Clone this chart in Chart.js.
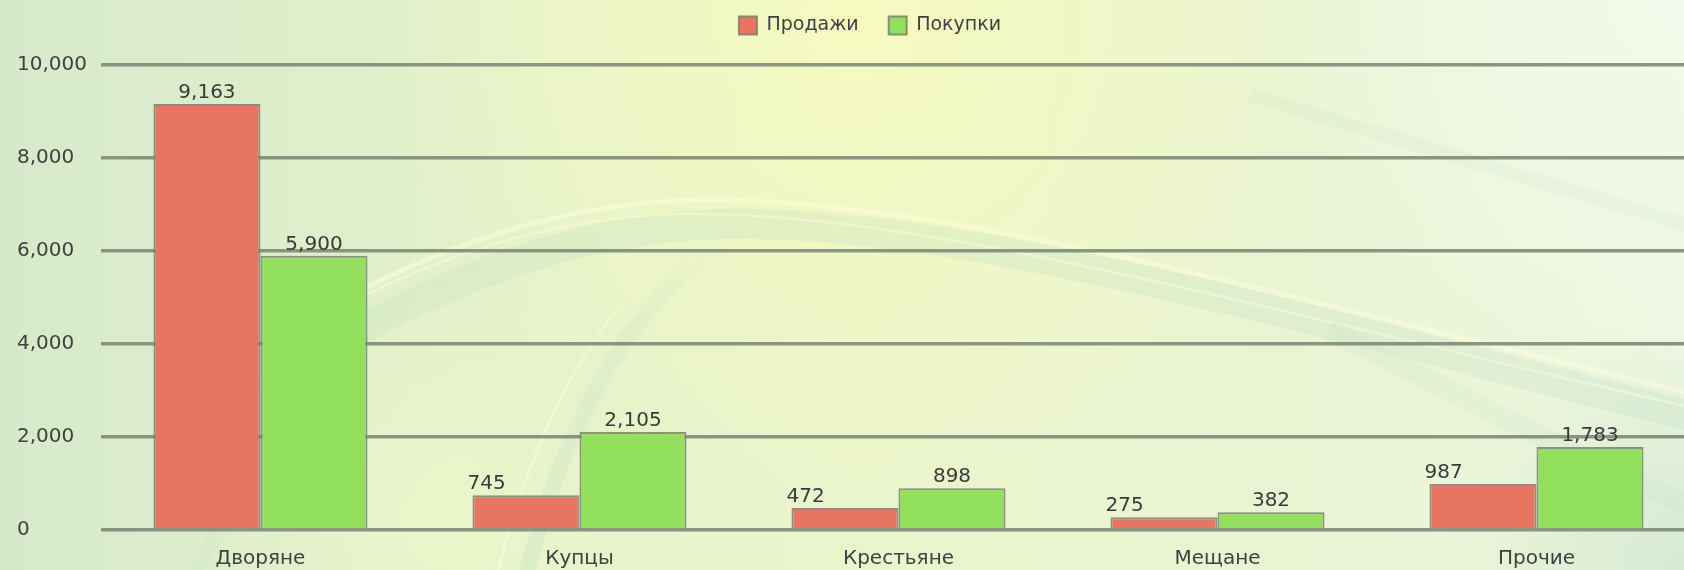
<!DOCTYPE html>
<html>
<head>
<meta charset="utf-8">
<script src="https://cdn.jsdelivr.net/npm/chart.js@4/dist/chart.umd.min.js"></script>
<style>
  html, body { margin: 0; padding: 0; overflow: hidden; width: 1684px; height: 570px; background: #e4f1cc; }
  #wrap { position: absolute; left: 0; top: 0; width: 1723px; height: 570px; }
</style>
</head>
<body>
<div id="wrap"><canvas id="c" width="1723" height="570"></canvas></div>
<script>
// Sales and purchases by social estate
const categories = ['Дворяне', 'Купцы', 'Крестьяне', 'Мещане', 'Прочие'];
const sales = [9163, 745, 472, 275, 987];
const purchases = [5900, 2105, 898, 382, 1783];
const seriesNames = ['Продажи', 'Покупки'];
const yTicks = [0, 2000, 4000, 6000, 8000, 10000];

const FONT = '"DejaVu Sans", Verdana, sans-serif';
const TEXT = '#414141';
const fmt = v => v.toLocaleString('en-US');

// Soft green/yellow backdrop with sweeping bands
const backdrop = {
  id: 'backdrop',
  beforeDraw(chart) {
    const { ctx, width, height } = chart;
    ctx.save();
    let g = ctx.createLinearGradient(0, 0, width, 0);
    g.addColorStop(0, '#d6eacb');
    g.addColorStop(0.25, '#e2f0cb');
    g.addColorStop(0.5, '#ebf5cb');
    g.addColorStop(0.75, '#eaf4d3');
    g.addColorStop(1, '#edf6e0');
    ctx.fillStyle = g;
    ctx.fillRect(0, 0, width, height);

    // warm glow near the top centre
    let r = ctx.createRadialGradient(860, 20, 10, 860, 20, 480);
    r.addColorStop(0, 'rgba(248,251,190,0.8)');
    r.addColorStop(1, 'rgba(248,251,190,0)');
    ctx.fillStyle = r;
    ctx.fillRect(0, 0, width, height);

    // pale top right
    r = ctx.createRadialGradient(1684, 0, 10, 1684, 0, 420);
    r.addColorStop(0, 'rgba(244,250,236,0.9)');
    r.addColorStop(1, 'rgba(244,250,236,0)');
    ctx.fillStyle = r;
    ctx.fillRect(0, 0, width, height);

    // light patch lower left
    r = ctx.createRadialGradient(440, 520, 10, 440, 520, 280);
    r.addColorStop(0, 'rgba(240,248,200,0.6)');
    r.addColorStop(1, 'rgba(240,248,200,0)');
    ctx.fillStyle = r;
    ctx.fillRect(0, 0, width, height);

    // greener lower right corner
    r = ctx.createRadialGradient(1684, 570, 10, 1684, 570, 240);
    r.addColorStop(0, 'rgba(205,230,205,0.7)');
    r.addColorStop(1, 'rgba(205,230,205,0)');
    ctx.fillStyle = r;
    ctx.fillRect(0, 0, width, height);

    ctx.lineCap = 'butt';
    const arch = (w, col, dx, dy) => {
      ctx.beginPath();
      ctx.moveTo(250 + dx, 360 + dy);
      ctx.bezierCurveTo(420 + dx, 250 + dy, 560 + dx, 205 + dy, 700 + dx, 200 + dy);
      ctx.bezierCurveTo(950 + dx, 195 + dy, 1300 + dx, 300 + dy, 1720, 400 + dy);
      ctx.strokeStyle = col;
      ctx.lineWidth = w;
      ctx.stroke();
    };
    // big arch sweeping across and falling to the right
    arch(30, 'rgba(180,218,190,0.22)', 20, 24);
    arch(5, 'rgba(250,253,218,0.55)', -10, 0);
    arch(2.5, 'rgba(250,253,218,0.5)', -25, 14);

    const band = (w, col, pts) => {
      ctx.beginPath();
      ctx.moveTo(pts[0], pts[1]);
      ctx.bezierCurveTo(pts[2], pts[3], pts[4], pts[5], pts[6], pts[7]);
      ctx.strokeStyle = col;
      ctx.lineWidth = w;
      ctx.stroke();
    };
    // rising strokes from the bottom, fading as they meet the arch
    let fade = ctx.createLinearGradient(520, 600, 720, 240);
    fade.addColorStop(0, 'rgba(185,220,195,0.28)');
    fade.addColorStop(0.7, 'rgba(185,220,195,0.2)');
    fade.addColorStop(1, 'rgba(185,220,195,0)');
    band(16, fade, [520, 600, 560, 430, 620, 320, 720, 240]);
    fade = ctx.createLinearGradient(490, 600, 660, 260);
    fade.addColorStop(0, 'rgba(250,253,218,0.6)');
    fade.addColorStop(0.8, 'rgba(250,253,218,0.4)');
    fade.addColorStop(1, 'rgba(250,253,218,0)');
    band(3, fade, [490, 600, 530, 440, 580, 340, 660, 260]);
    // faint diagonal streaks
    band(14, 'rgba(195,225,200,0.16)', [1250, 95, 1400, 140, 1550, 185, 1720, 235]);
    band(20, 'rgba(200,228,200,0.22)', [1330, 330, 1450, 390, 1560, 450, 1720, 520]);
    band(16, 'rgba(200,228,200,0.2)', [180, 600, 220, 520, 260, 470, 300, 430]);
    ctx.restore();
  }
};

// Extra room between the legend and the plot
const legendSpacing = {
  id: 'legendSpacing',
  beforeInit(chart) {
    const fit = chart.legend.fit;
    chart.legend.fit = function () { fit.call(this); this.height += 20; };
  }
};

// Value labels above the bars
const valueLabels = {
  id: 'valueLabels',
  afterDatasetsDraw(chart) {
    const { ctx } = chart;
    ctx.save();
    ctx.font = '20px ' + FONT;
    ctx.fillStyle = '#3a3a3a';
    ctx.textBaseline = 'alphabetic';
    chart.data.datasets.forEach((ds, di) => {
      const meta = chart.getDatasetMeta(di);
      meta.data.forEach((bar, i) => {
        const v = ds.data[i];
        let x = bar.x;
        ctx.textAlign = 'center';
        if (di === 0 && v < 5000) {
          ctx.textAlign = 'left';
          x = bar.x - bar.width / 2 - 5;
        }
        ctx.fillText(fmt(v), x, bar.y - 6);
      });
    });
    ctx.restore();
  }
};

new Chart(document.getElementById('c'), {
  type: 'bar',
  data: {
    labels: categories,
    datasets: [
      { label: seriesNames[0], data: sales, backgroundColor: '#e87462', borderColor: 'rgba(120,128,108,0.85)', borderWidth: 2 },
      { label: seriesNames[1], data: purchases, backgroundColor: '#93df5e', borderColor: 'rgba(120,128,108,0.85)', borderWidth: 2 }
    ]
  },
  options: {
    responsive: false,
    animation: false,
    layout: { padding: { left: 17, right: 0, top: -14, bottom: -10 } },
    datasets: { bar: { categoryPercentage: 0.671, barPercentage: 1.0 } },
    plugins: {
      legend: {
        position: 'top',
        labels: {
          boxWidth: 18, boxHeight: 18, padding: 30,
          color: TEXT, font: { family: FONT, size: 19 }
        }
      },
      tooltip: { enabled: false }
    },
    scales: {
      x: {
        grid: { display: false },
        border: { display: false },
        ticks: { color: TEXT, font: { family: FONT, size: 20 }, padding: 9, maxRotation: 0 }
      },
      y: {
        min: 0, max: 10000,
        afterBuildTicks(scale) { scale.ticks = yTicks.map(v => ({ value: v })); },
        grid: { color: 'rgba(128,138,120,0.9)', lineWidth: 3.5, drawTicks: false },
        border: { display: false },
        ticks: {
          color: TEXT, font: { family: FONT, size: 20 }, padding: 7,
          crossAlign: 'far', callback: v => fmt(v)
        }
      },
      spacer: {
        position: 'right', display: true,
        grid: { display: false }, border: { display: false },
        ticks: { display: false },
        afterFit(scale) { scale.width = 27; }
      }
    }
  },
  plugins: [backdrop, legendSpacing, valueLabels]
});
</script>
</body>
</html>
